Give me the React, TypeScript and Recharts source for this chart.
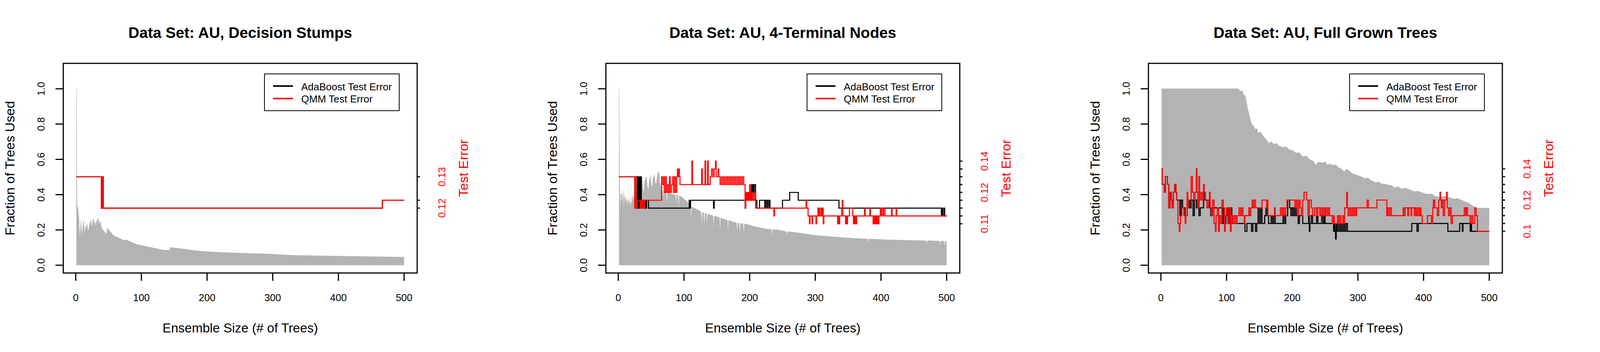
import React from 'react';
import { ComposedChart, Area, Line, XAxis, YAxis, ReferenceArea, Legend, Label } from 'recharts';

const FONT = '"Liberation Sans", Arial, Helvetica, sans-serif';
const PANEL_W = 1389;
const PANEL_H = 900;

// ---------- shared axes ----------
const X_DOMAIN: [number, number] = [-18.96, 519.96];
const X_TICKS = [0, 100, 200, 300, 400, 500];
const FRAC_DOMAIN: [number, number] = [-0.044, 1.144];
const FRAC_TICKS = [0, 0.2, 0.4, 0.6, 0.8, 1.0];
const FRAC_TICK_LABELS = ['0.0', '0.2', '0.4', '0.6', '0.8', '1.0'];
const LEGEND_LABELS = ['AdaBoost Test Error', 'QMM Test Error'];
const LEGEND_COLORS = ['#000000', '#FF0000'];
const TITLES = ['Data Set: AU, Decision Stumps', 'Data Set: AU, 4-Terminal Nodes', 'Data Set: AU, Full Grown Trees'];
const X_LABEL = 'Ensemble Size (# of Trees)';
const Y_LABEL = 'Fraction of Trees Used';
const ERR_LABEL = 'Test Error';

// ---------- panel 1: decision stumps ----------
const frac1: [number, number][] = [
  [1, 1.0], [2, 0.335], [3, 0.33], [4, 0.3], [5, 0.25], [6, 0.15], [7, 0.19], [8, 0.253], [9, 0.19], [10, 0.175],
  [11, 0.22], [12, 0.253], [13, 0.2], [14, 0.183], [15, 0.22], [16, 0.2], [17, 0.237], [18, 0.21], [19, 0.2], [20, 0.198],
  [21, 0.24], [22, 0.22], [23, 0.261], [24, 0.225], [25, 0.214], [26, 0.25], [27, 0.265], [28, 0.235], [29, 0.245], [30, 0.228],
  [31, 0.222], [32, 0.255], [33, 0.25], [34, 0.268], [35, 0.24], [36, 0.23], [37, 0.25], [38, 0.242], [39, 0.215], [40, 0.206],
  [47, 0.175], [48, 0.21], [58, 0.167], [74, 0.14], [76, 0.145], [93, 0.117], [103, 0.11], [133, 0.086], [143, 0.084], [144, 0.101],
  [160, 0.094], [173, 0.087], [194, 0.078], [220, 0.073], [254, 0.068], [290, 0.064], [306, 0.061], [332, 0.056], [360, 0.054],
  [411, 0.051], [460, 0.048], [500, 0.046],
];
const ada1: [number, number][] = [[1, 0.1304], [39, 0.1188], [41, 0.1304], [42, 0.1188], [467, 0.1217], [500, 0.1217]];
const qmm1: [number, number][] = [[1, 0.1304], [39, 0.1188], [41, 0.1304], [42, 0.1188], [467, 0.1217], [500, 0.1217]];
const errDomain1: [number, number] = [0.094747, 0.172428];
const errTicks1 = [0.1188, 0.1217, 0.1304];
const errTickLabels1 = ['0.12', '', '0.13'];

// ---------- panel 2: 4-terminal nodes ----------
const frac2: [number, number][] = [
  [1, 1.0], [2, 0.49], [3, 0.25], [4, 0.405], [5, 0.4], [6, 0.32], [7, 0.42], [8, 0.3], [9, 0.4], [10, 0.33],
  [11, 0.39], [12, 0.34], [13, 0.38], [14, 0.33], [15, 0.37], [16, 0.33], [17, 0.38], [18, 0.32], [19, 0.36], [20, 0.33],
  [21, 0.39], [22, 0.35], [23, 0.4], [24, 0.34], [25, 0.42], [26, 0.36], [27, 0.45], [28, 0.38], [29, 0.48], [30, 0.4],
  [31, 0.47], [32, 0.36], [33, 0.48], [34, 0.42], [36, 0.5], [37, 0.455], [39, 0.393], [40, 0.47], [42, 0.5], [43, 0.498],
  [44, 0.45], [46, 0.424], [47, 0.47], [49, 0.51], [50, 0.46], [52, 0.44], [53, 0.49], [55, 0.513], [56, 0.47], [58, 0.455],
  [59, 0.5], [61, 0.53], [62, 0.525], [63, 0.47], [65, 0.44], [66, 0.43], [67, 0.42], [68, 0.36], [69, 0.42], [73, 0.41],
  [74, 0.34], [75, 0.41], [80, 0.405], [84, 0.4], [87, 0.4], [88, 0.33], [89, 0.4], [91, 0.395], [92, 0.31], [93, 0.395],
  [97, 0.385], [100, 0.375], [105, 0.36], [108, 0.345], [110, 0.34], [111, 0.25], [112, 0.33], [118, 0.32], [125, 0.306], [126, 0.3],
  [127, 0.215], [128, 0.3], [130, 0.297], [131, 0.2], [132, 0.295], [134, 0.292], [135, 0.215], [136, 0.29], [140, 0.285], [144, 0.28],
  [145, 0.2], [146, 0.278], [150, 0.275], [154, 0.27], [155, 0.19], [156, 0.268], [160, 0.262], [166, 0.255], [167, 0.185], [168, 0.254],
  [175, 0.245], [180, 0.24], [181, 0.175], [182, 0.24], [184, 0.238], [185, 0.16], [186, 0.237], [190, 0.235], [191, 0.16], [192, 0.234],
  [195, 0.233], [205, 0.221], [215, 0.213], [224, 0.206], [233, 0.203], [234, 0.16], [235, 0.202], [244, 0.2], [256, 0.19], [257, 0.16],
  [258, 0.19], [264, 0.188], [275, 0.183], [284, 0.178], [295, 0.172], [306, 0.167], [330, 0.16], [359, 0.152], [379, 0.149], [380, 0.12],
  [381, 0.149], [411, 0.144], [440, 0.141], [464, 0.139], [469, 0.139], [470, 0.115], [471, 0.139], [489, 0.137], [490, 0.1], [491, 0.137],
  [496, 0.136], [497, 0.1], [498, 0.135], [500, 0.135],
];
const ada2: [number, number][] = [
  [1, 0.1304], [29, 0.1188], [30, 0.1304], [31, 0.1188], [32, 0.1304], [33, 0.1188], [34, 0.1304], [35, 0.1217], [36, 0.1188], [37, 0.1217],
  [39, 0.1188], [40, 0.1217], [42, 0.1188], [43, 0.1217], [46, 0.1188], [108, 0.1217], [109, 0.1188], [110, 0.1217], [145, 0.1188], [146, 0.1217],
  [193, 0.1188], [194, 0.1217], [203, 0.1275], [204, 0.1246], [205, 0.1275], [206, 0.1246], [207, 0.1275], [209, 0.1217], [211, 0.1188], [215, 0.1217],
  [223, 0.1188], [224, 0.1217], [226, 0.1188], [227, 0.1217], [229, 0.1188], [230, 0.1217], [231, 0.1188], [250, 0.1217], [261, 0.1246], [274, 0.1217],
  [336, 0.1188], [492, 0.1159], [493, 0.1188], [494, 0.1159], [496, 0.1188], [497, 0.1159], [500, 0.1159],
];
const qmm2: [number, number][] = [
  [1, 0.1304], [25, 0.1188], [26, 0.1304], [27, 0.1188], [29, 0.1217], [33, 0.1188], [34, 0.1217], [36, 0.1188], [37, 0.1217], [39, 0.1188],
  [40, 0.1217], [66, 0.1304], [67, 0.1275], [69, 0.1304], [70, 0.1246], [72, 0.1304], [73, 0.1246], [75, 0.1275], [76, 0.1246], [78, 0.1304],
  [79, 0.1246], [81, 0.1275], [83, 0.1304], [84, 0.1246], [86, 0.1304], [87, 0.1246], [89, 0.1304], [90, 0.1333], [91, 0.1304], [92, 0.1333],
  [93, 0.1304], [94, 0.1275], [112, 0.1362], [113, 0.1275], [127, 0.1333], [128, 0.1275], [132, 0.1362], [133, 0.1275], [136, 0.1362], [137, 0.1275],
  [140, 0.1304], [142, 0.1333], [144, 0.1304], [146, 0.1333], [148, 0.1362], [149, 0.1304], [152, 0.1333], [153, 0.1304], [155, 0.1275], [157, 0.1304],
  [159, 0.1275], [161, 0.1304], [163, 0.1275], [165, 0.1304], [167, 0.1275], [169, 0.1304], [171, 0.1275], [173, 0.1304], [175, 0.1275], [177, 0.1304],
  [179, 0.1275], [181, 0.1304], [183, 0.1275], [185, 0.1304], [187, 0.1275], [189, 0.1304], [191, 0.1275], [193, 0.1188], [194, 0.1246], [195, 0.1217],
  [196, 0.1246], [197, 0.1217], [198, 0.1246], [199, 0.1217], [200, 0.1275], [201, 0.1217], [202, 0.1246], [203, 0.1217], [205, 0.1246], [206, 0.1217],
  [208, 0.1246], [209, 0.1188], [237, 0.1159], [238, 0.1188], [286, 0.1217], [287, 0.1188], [289, 0.1159], [291, 0.113], [292, 0.1159], [295, 0.113],
  [296, 0.1159], [301, 0.113], [302, 0.1159], [304, 0.1188], [305, 0.1159], [306, 0.1188], [307, 0.1159], [309, 0.1188], [310, 0.1159], [311, 0.1188],
  [312, 0.113], [313, 0.1159], [334, 0.113], [335, 0.1159], [336, 0.113], [337, 0.1159], [340, 0.1188], [341, 0.1217], [342, 0.1159], [346, 0.113],
  [347, 0.1159], [348, 0.113], [349, 0.1159], [352, 0.1188], [357, 0.1159], [358, 0.113], [359, 0.1159], [360, 0.113], [361, 0.1159], [362, 0.113],
  [363, 0.1159], [375, 0.1188], [376, 0.1159], [383, 0.1188], [384, 0.1159], [388, 0.113], [389, 0.1159], [390, 0.113], [391, 0.1159], [392, 0.113],
  [393, 0.1159], [394, 0.113], [395, 0.1159], [396, 0.113], [397, 0.1159], [399, 0.1188], [400, 0.1159], [401, 0.1188], [403, 0.1159], [404, 0.1188],
  [406, 0.1159], [416, 0.1188], [417, 0.1159], [423, 0.1188], [424, 0.1159], [500, 0.1159],
];
const errDomain2: [number, number] = [0.094747, 0.172428];
const errTicks2 = [0.113, 0.1159, 0.1188, 0.1217, 0.1246, 0.1275, 0.1304, 0.1333, 0.1362];
const errTickLabels2 = ['0.11', '', '', '', '0.12', '', '', '', '0.14'];

// ---------- panel 3: full grown trees ----------
const frac3: [number, number][] = [
  [1, 1.0], [118, 1.0], [120, 0.99], [122, 0.985], [124, 0.99], [126, 0.96], [128, 0.965], [130, 0.93], [132, 0.89], [134, 0.86], [136, 0.83],
  [138, 0.8], [141, 0.79], [144, 0.77], [146, 0.775], [148, 0.75], [152, 0.755], [156, 0.73], [160, 0.715], [164, 0.69], [168, 0.7],
  [172, 0.685], [176, 0.69], [180, 0.676], [186, 0.668], [190, 0.672], [196, 0.655], [201, 0.65], [206, 0.635], [210, 0.64], [216, 0.615],
  [222, 0.62], [226, 0.6], [232, 0.59], [236, 0.568], [240, 0.585], [244, 0.582], [247, 0.58], [250, 0.585], [254, 0.568], [258, 0.575],
  [262, 0.565], [266, 0.57], [270, 0.555], [275, 0.545], [279, 0.53], [283, 0.545], [287, 0.535], [291, 0.52], [295, 0.515], [299, 0.51],
  [303, 0.505], [307, 0.498], [311, 0.49], [315, 0.497], [320, 0.48], [327, 0.469], [332, 0.472], [336, 0.462], [341, 0.46], [346, 0.454],
  [352, 0.45], [356, 0.44], [362, 0.445], [366, 0.432], [372, 0.437], [378, 0.43], [386, 0.417], [392, 0.42], [398, 0.41], [406, 0.402],
  [412, 0.405], [418, 0.39], [426, 0.384], [432, 0.392], [438, 0.385], [446, 0.376], [452, 0.378], [458, 0.368], [465, 0.358], [470, 0.35],
  [475, 0.335], [481, 0.324], [500, 0.324],
];
const ada3: [number, number][] = [
  [1, 0.14], [2, 0.13], [5, 0.125], [7, 0.135], [10, 0.13], [12, 0.115], [14, 0.125], [16, 0.12], [17, 0.115], [19, 0.125],
  [21, 0.13], [23, 0.125], [24, 0.12], [29, 0.11], [31, 0.12], [33, 0.115], [37, 0.11], [40, 0.115], [42, 0.12], [44, 0.115],
  [46, 0.12], [49, 0.11], [51, 0.12], [54, 0.115], [56, 0.12], [58, 0.11], [60, 0.115], [65, 0.125], [66, 0.12], [74, 0.115],
  [76, 0.11], [79, 0.115], [93, 0.105], [95, 0.115], [97, 0.105], [99, 0.11], [101, 0.115], [103, 0.105], [105, 0.115], [108, 0.105],
  [128, 0.1], [131, 0.105], [138, 0.1], [140, 0.105], [144, 0.1], [146, 0.105], [148, 0.115], [150, 0.105], [152, 0.115], [154, 0.105],
  [158, 0.11], [160, 0.115], [162, 0.11], [164, 0.105], [168, 0.11], [170, 0.105], [172, 0.11], [174, 0.105], [186, 0.11], [188, 0.105],
  [190, 0.11], [193, 0.12], [196, 0.115], [198, 0.11], [200, 0.115], [202, 0.11], [204, 0.115], [206, 0.11], [209, 0.105], [211, 0.11],
  [216, 0.105], [225, 0.11], [226, 0.1], [227, 0.105], [229, 0.11], [231, 0.105], [237, 0.11], [239, 0.105], [245, 0.11], [247, 0.105],
  [249, 0.11], [250, 0.105], [263, 0.1], [264, 0.105], [265, 0.1], [266, 0.095], [267, 0.105], [268, 0.1], [270, 0.105], [272, 0.1],
  [274, 0.105], [276, 0.1], [278, 0.105], [280, 0.1], [282, 0.105], [284, 0.1], [382, 0.105], [390, 0.1], [392, 0.105], [437, 0.1],
  [455, 0.105], [459, 0.1], [460, 0.105], [471, 0.1], [472, 0.105], [473, 0.1], [500, 0.1],
];
const qmm3: [number, number][] = [
  [1, 0.14], [2, 0.13], [5, 0.125], [7, 0.135], [10, 0.13], [12, 0.115], [14, 0.125], [16, 0.12], [17, 0.115], [19, 0.125],
  [21, 0.13], [23, 0.125], [24, 0.12], [26, 0.105], [28, 0.1], [29, 0.105], [30, 0.11], [32, 0.115], [35, 0.11], [37, 0.105],
  [38, 0.11], [40, 0.125], [41, 0.115], [42, 0.12], [46, 0.135], [48, 0.125], [50, 0.12], [52, 0.125], [54, 0.14], [55, 0.125],
  [56, 0.115], [58, 0.135], [59, 0.12], [61, 0.125], [63, 0.12], [65, 0.13], [66, 0.125], [68, 0.12], [70, 0.115], [72, 0.12],
  [74, 0.125], [75, 0.115], [77, 0.11], [79, 0.12], [81, 0.105], [83, 0.1], [84, 0.11], [86, 0.115], [88, 0.1], [89, 0.11],
  [91, 0.105], [93, 0.12], [95, 0.115], [97, 0.1], [98, 0.11], [100, 0.115], [102, 0.105], [104, 0.115], [106, 0.1], [107, 0.105],
  [108, 0.11], [110, 0.105], [112, 0.11], [114, 0.105], [116, 0.11], [119, 0.115], [121, 0.11], [123, 0.115], [125, 0.11], [127, 0.105],
  [128, 0.11], [134, 0.115], [135, 0.11], [137, 0.115], [139, 0.12], [140, 0.115], [142, 0.12], [144, 0.115], [154, 0.12], [161, 0.115],
  [162, 0.12], [163, 0.11], [173, 0.115], [174, 0.11], [182, 0.115], [184, 0.11], [186, 0.115], [188, 0.11], [190, 0.115], [192, 0.12],
  [204, 0.115], [206, 0.12], [208, 0.11], [210, 0.12], [212, 0.115], [214, 0.11], [216, 0.12], [218, 0.125], [222, 0.12], [224, 0.11],
  [226, 0.12], [229, 0.115], [231, 0.11], [234, 0.115], [237, 0.11], [239, 0.115], [242, 0.11], [244, 0.115], [246, 0.11], [248, 0.115],
  [250, 0.11], [251, 0.115], [253, 0.11], [255, 0.115], [257, 0.11], [261, 0.105], [263, 0.11], [264, 0.105], [269, 0.11], [270, 0.105],
  [272, 0.11], [274, 0.105], [277, 0.11], [278, 0.105], [280, 0.115], [283, 0.125], [284, 0.115], [285, 0.11], [287, 0.115], [289, 0.11],
  [291, 0.115], [293, 0.11], [295, 0.115], [297, 0.11], [298, 0.115], [314, 0.12], [316, 0.115], [329, 0.12], [344, 0.11], [345, 0.115],
  [347, 0.11], [349, 0.115], [351, 0.11], [369, 0.115], [370, 0.11], [372, 0.115], [376, 0.11], [377, 0.115], [381, 0.11], [382, 0.115],
  [386, 0.11], [387, 0.115], [389, 0.11], [391, 0.115], [393, 0.11], [395, 0.115], [396, 0.11], [398, 0.105], [406, 0.11], [412, 0.105],
  [414, 0.115], [415, 0.12], [417, 0.115], [421, 0.11], [423, 0.12], [425, 0.125], [426, 0.12], [427, 0.115], [428, 0.12], [430, 0.11],
  [432, 0.12], [435, 0.125], [436, 0.115], [438, 0.11], [440, 0.115], [442, 0.105], [444, 0.11], [462, 0.115], [464, 0.11], [465, 0.115],
  [467, 0.11], [471, 0.105], [473, 0.11], [475, 0.105], [478, 0.115], [480, 0.11], [482, 0.1], [500, 0.1],
];
const errDomain3: [number, number] = [0.073258, 0.207594];
const errTicks3 = [0.1, 0.105, 0.11, 0.115, 0.12, 0.125, 0.13, 0.135, 0.14];
const errTickLabels3 = ['0.1', '', '', '', '0.12', '', '', '', '0.14'];

// ---------- styling ----------
const GRAY = '#B3B3B3';
const RED = '#FF0000';
const TICK_F = 25.5;
const LAB_F = 33;
const VLAB_F = 34;

type PanelSpec = {
  title: string;
  frac: [number, number][];
  ada: [number, number][];
  qmm: [number, number][];
  errDomain: [number, number];
  errTicks: number[];
  errTickLabels: string[];
};

const PANELS: PanelSpec[] = [
  { title: TITLES[0], frac: frac1, ada: ada1, qmm: qmm1, errDomain: errDomain1, errTicks: errTicks1, errTickLabels: errTickLabels1 },
  { title: TITLES[1], frac: frac2, ada: ada2, qmm: qmm2, errDomain: errDomain2, errTicks: errTicks2, errTickLabels: errTickLabels2 },
  { title: TITLES[2], frac: frac3, ada: ada3, qmm: qmm3, errDomain: errDomain3, errTicks: errTicks3, errTickLabels: errTickLabels3 },
];

const toRows = (pairs: [number, number][], key: string) => pairs.map(([x, v]) => ({ x, [key]: v }));

function BottomTick(props: any) {
  const { x, y, payload } = props;
  return (
    <text x={x} y={y + 43} dy="0.36em" textAnchor="middle" fontSize={TICK_F} fontFamily={FONT} fill="#000">
      {String(payload.value)}
    </text>
  );
}

function LeftTick(props: any) {
  const { x, y, payload } = props;
  const cx = x - 37;
  const idx = FRAC_TICKS.indexOf(payload.value);
  return (
    <text x={cx} y={y} dy="0.36em" transform={`rotate(-90 ${cx} ${y})`} textAnchor="middle" fontSize={TICK_F} fontFamily={FONT} fill="#000">
      {idx >= 0 ? FRAC_TICK_LABELS[idx] : ''}
    </text>
  );
}

function makeRightTick(ticks: number[], labels: string[]) {
  return (props: any) => {
    const { x, y, payload } = props;
    const cx = x + 56;
    const idx = ticks.indexOf(payload.value);
    const lab = idx >= 0 ? labels[idx] : '';
    return (
      <text x={cx} y={y} dy="0.36em" transform={`rotate(-90 ${cx} ${y})`} textAnchor="middle" fontSize={TICK_F} fontFamily={FONT} fill={RED}>
        {lab}
      </text>
    );
  };
}

function LegendBox() {
  return (
    <div style={{ position: 'relative', boxSizing: 'border-box', width: 347, height: 96, border: '2.5px solid #000', fontFamily: FONT, fontSize: 26, color: '#000' }}>
      {LEGEND_LABELS.map((lab, i) => (
        <React.Fragment key={lab}>
          <div style={{ position: 'absolute', left: 21, top: 28 + i * 32.2, width: 51, height: 4, background: LEGEND_COLORS[i] }} />
          <span style={{ position: 'absolute', left: 93, top: 18.8 + i * 31, lineHeight: '26px', whiteSpace: 'nowrap' }}>{lab}</span>
        </React.Fragment>
      ))}
    </div>
  );
}

function Panel({ spec }: { spec: PanelSpec }) {
  const fracRows = toRows(spec.frac, 'frac');
  const adaRows = toRows(spec.ada, 'err');
  const qmmRows = toRows(spec.qmm, 'err');
  return (
    <div style={{ position: 'relative', width: PANEL_W, height: PANEL_H, flex: 'none' }}>
      <ComposedChart width={PANEL_W} height={PANEL_H} margin={{ top: 162, right: 0, bottom: 0, left: 0 }}>
        <XAxis
          dataKey="x"
          type="number"
          domain={X_DOMAIN}
          ticks={X_TICKS}
          allowDataOverflow
          interval={0}
          height={202}
          tickSize={20}
          tickMargin={0}
          axisLine={false}
          tickLine={{ stroke: '#000', strokeWidth: 3 }}
          tick={BottomTick}
        >
          <Label
            content={(p: any) => {
              const vb = p.viewBox || {};
              return (
                <text x={vb.x + vb.width / 2} y={vb.y + 152} textAnchor="middle" fontSize={LAB_F} fontFamily={FONT} fill="#000">
                  {X_LABEL}
                </text>
              );
            }}
          />
        </XAxis>
        <YAxis
          yAxisId="frac"
          type="number"
          domain={FRAC_DOMAIN}
          ticks={FRAC_TICKS}
          allowDataOverflow
          interval={0}
          width={162}
          tickSize={20}
          tickMargin={0}
          axisLine={false}
          tickLine={{ stroke: '#000', strokeWidth: 3 }}
          tick={LeftTick}
        >
          <Label
            content={(p: any) => {
              const vb = p.viewBox || {};
              const cx = vb.x + 25;
              const cy = vb.y + vb.height / 2;
              return (
                <text x={cx} y={cy} dy="0.36em" transform={`rotate(-90 ${cx} ${cy})`} textAnchor="middle" fontSize={VLAB_F} fontFamily={FONT} fill="#000">
                  {Y_LABEL}
                </text>
              );
            }}
          />
        </YAxis>
        <YAxis
          yAxisId="err"
          orientation="right"
          type="number"
          domain={spec.errDomain}
          ticks={spec.errTicks}
          allowDataOverflow
          interval={0}
          width={321}
          tickSize={7}
          tickMargin={0}
          axisLine={false}
          tickLine={{ stroke: '#000', strokeWidth: 3 }}
          tick={makeRightTick(spec.errTicks, spec.errTickLabels)}
        >
          <Label
            content={(p: any) => {
              const vb = p.viewBox || {};
              const cx = vb.x + 118;
              const cy = vb.y + vb.height / 2;
              return (
                <text x={cx} y={cy} dy="0.36em" transform={`rotate(-90 ${cx} ${cy})`} textAnchor="middle" fontSize={VLAB_F} fontFamily={FONT} fill={RED}>
                  {ERR_LABEL}
                </text>
              );
            }}
          />
        </YAxis>
        <Area
          yAxisId="frac"
          data={fracRows}
          dataKey="frac"
          type="linear"
          baseValue={0}
          fill={GRAY}
          fillOpacity={1}
          stroke={GRAY}
          strokeWidth={1}
          isAnimationActive={false}
          dot={false}
          activeDot={false}
        />
        <Line
          yAxisId="err"
          data={adaRows}
          dataKey="err"
          type="stepAfter"
          stroke="#000"
          strokeWidth={2.7}
          dot={false}
          activeDot={false}
          isAnimationActive={false}
        />
        <Line
          yAxisId="err"
          data={qmmRows}
          dataKey="err"
          type="stepAfter"
          stroke={RED}
          strokeWidth={2.7}
          dot={false}
          activeDot={false}
          isAnimationActive={false}
        />
        <ReferenceArea
          yAxisId="frac"
          x1={X_DOMAIN[0]}
          x2={X_DOMAIN[1]}
          y1={FRAC_DOMAIN[0]}
          y2={FRAC_DOMAIN[1]}
          fill="none"
          fillOpacity={0}
          stroke="#000"
          strokeWidth={3}
          ifOverflow="visible"
        />
        <Legend
          layout="horizontal"
          align="center"
          verticalAlign="middle"
          wrapperStyle={{ left: 676, top: 188, width: 347, height: 96, margin: 0, padding: 0 }}
          content={() => <LegendBox />}
        />
      </ComposedChart>
      <div
        style={{
          position: 'absolute',
          left: 0,
          top: 62,
          width: 1230,
          textAlign: 'center',
          fontFamily: FONT,
          fontWeight: 700,
          fontSize: 39,
          lineHeight: '43px',
          whiteSpace: 'nowrap',
          color: '#000',
        }}
      >
        {spec.title}
      </div>
    </div>
  );
}

export default function App() {
  return (
    <div style={{ position: 'absolute', left: 0, top: 0, width: 4167, height: 900, background: '#fff', display: 'flex' }}>
      {PANELS.map((p) => (
        <Panel key={p.title} spec={p} />
      ))}
    </div>
  );
}
